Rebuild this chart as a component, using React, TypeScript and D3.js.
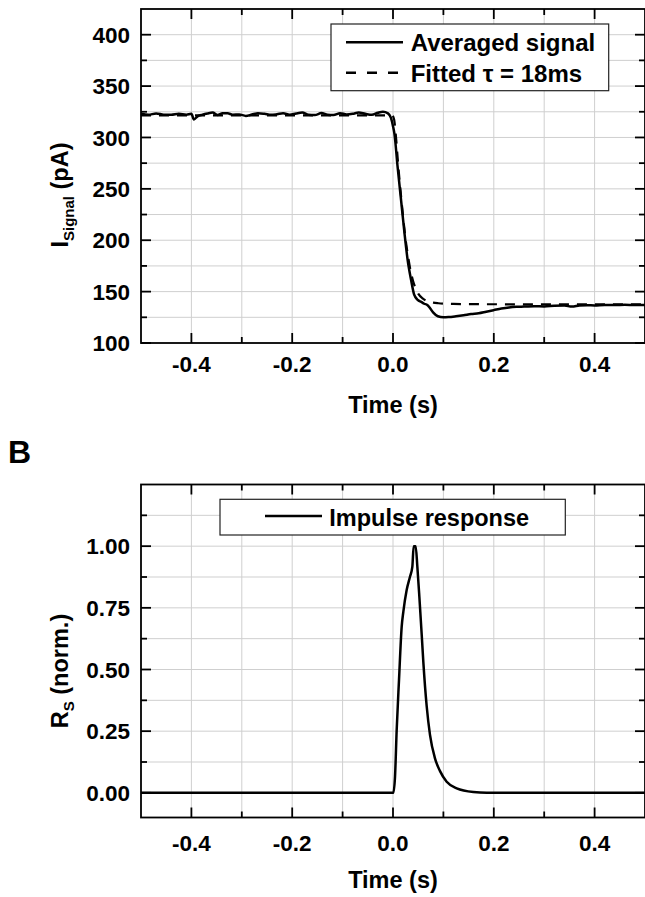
import React from "react";
import * as d3 from "d3";

// ---------- data ----------
const signalT = [-0.5, -0.485, -0.47, -0.455, -0.44, -0.425, -0.41, -0.4, -0.395, -0.388, -0.378, -0.368, -0.358, -0.348, -0.338, -0.328, -0.318, -0.305, -0.292, -0.28, -0.268, -0.255, -0.242, -0.23, -0.218, -0.205, -0.192, -0.18, -0.168, -0.155, -0.142, -0.13, -0.118, -0.105, -0.092, -0.08, -0.068, -0.055, -0.042, -0.03, -0.02, -0.01, -0.004, 0.0, 0.003, 0.009, 0.016, 0.023, 0.029, 0.036, 0.042, 0.049, 0.056, 0.062, 0.068, 0.074, 0.08, 0.089, 0.1, 0.11, 0.125, 0.14, 0.155, 0.17, 0.185, 0.2, 0.215, 0.23, 0.245, 0.26, 0.28, 0.3, 0.32, 0.34, 0.355, 0.37, 0.385, 0.4, 0.42, 0.44, 0.46, 0.48, 0.5];
const signalV = [323.0, 322.0, 323.4, 322.2, 322.0, 323.0, 322.2, 323.0, 317.5, 320.5, 322.2, 323.4, 324.2, 321.8, 323.6, 323.5, 322.2, 322.4, 321.0, 322.3, 323.6, 323.0, 322.0, 322.6, 323.5, 322.1, 323.4, 324.2, 322.2, 321.8, 323.7, 322.2, 321.8, 323.6, 322.4, 323.0, 324.3, 323.0, 322.0, 324.0, 325.0, 323.5, 319.0, 311.0, 303.0, 272.0, 239.0, 206.0, 181.0, 161.0, 147.0, 142.0, 140.0, 138.2, 137.0, 133.5, 129.5, 126.0, 125.0, 125.2, 126.0, 127.0, 128.2, 129.0, 130.5, 132.0, 133.5, 134.6, 135.2, 135.4, 135.8, 135.6, 136.2, 136.4, 135.4, 136.5, 136.8, 136.6, 137.0, 136.9, 137.1, 137.0, 137.0];

const fitT = [-0.5, -0.002, 0.002, 0.006, 0.01, 0.015, 0.02, 0.025, 0.03, 0.035, 0.04, 0.045, 0.05, 0.06, 0.07, 0.08, 0.09, 0.1, 0.12, 0.15, 0.2, 0.3, 0.4, 0.5];
const fitV = [321.5, 321.5, 318, 300, 275, 248, 223, 201, 184, 170, 160, 153, 148, 143, 140.5, 139.3, 138.7, 138.3, 138, 137.8, 137.7, 137.6, 137.5, 137.5];

const impulseT = [-0.5, 0.0007, 0.004, 0.0073, 0.0119, 0.0172, 0.0205, 0.0271, 0.0337, 0.0384, 0.041, 0.045, 0.0483, 0.0523, 0.057, 0.0602, 0.0669, 0.0734, 0.0833, 0.0933, 0.1065, 0.1264, 0.1594, 0.186, 0.5];
const impulseV = [0, 0, 0.065, 0.255, 0.457, 0.673, 0.734, 0.822, 0.876, 0.917, 1.0, 1.0, 0.917, 0.795, 0.64, 0.53, 0.35, 0.235, 0.14, 0.088, 0.045, 0.018, 0.003, 0, 0];

const xMajorTicks = [-0.4, -0.2, 0.0, 0.2, 0.4];
const xMinorTicks = [-0.3, -0.1, 0.1, 0.3];
const xTickLabels = ["-0.4", "-0.2", "0.0", "0.2", "0.4"];

const topYMajor = [100, 150, 200, 250, 300, 350, 400];
const topYMinor = [125, 175, 225, 275, 325, 375];
const topYLabels = ["100", "150", "200", "250", "300", "350", "400"];

const botYMajor = [0, 0.25, 0.5, 0.75, 1.0];
const botYMinor = [0.125, 0.375, 0.625, 0.875, 1.125];
const botYLabels = ["0.00", "0.25", "0.50", "0.75", "1.00"];

const legendTop = ["Averaged signal", "Fitted \u03c4 = 18ms"];
const legendBottom = ["Impulse response"];

// ---------- layout ----------
const W = 645;
const H = 897;
const FONT = "'Liberation Sans', Arial, Helvetica, sans-serif";
const X0 = 141;
const X1 = 645;

const x = d3.scaleLinear().domain([-0.5, 0.5]).range([X0, X1]);
const yTop = d3.scaleLinear().domain([100, 425]).range([343, 9]);
const yBot = d3.scaleLinear().domain([-0.1, 1.25]).range([817.5, 484.5]);

type Scale = d3.ScaleLinear<number, number>;

function Grid({ y, yGrid }: { y: Scale; yGrid: number[] }) {
  const [yb, yt] = y.range();
  const xGrid = [...xMajorTicks, ...xMinorTicks];
  const grid = "#cfcfcf";
  return (
    <g>
      {xGrid.map((v, i) => (
        <line key={"gx" + i} x1={x(v)} x2={x(v)} y1={yt} y2={yb} stroke={grid} strokeWidth={1} />
      ))}
      {yGrid.map((v, i) => (
        <line key={"gy" + i} x1={X0} x2={X1} y1={y(v)} y2={y(v)} stroke={grid} strokeWidth={1} />
      ))}
    </g>
  );
}

function Axes({ y, yMajor, yMinor, yLabels, xLabelBaseline, titleBaseline }: {
  y: Scale; yMajor: number[]; yMinor: number[]; yLabels: string[];
  xLabelBaseline: number; titleBaseline: number;
}) {
  const [yb, yt] = y.range();
  const maj = 10;
  const min = 6;
  const sw = 1.8;
  return (
    <g>
      <rect x={X0} y={yt} width={X1 - X0} height={yb - yt} fill="none" stroke="#000" strokeWidth={sw} />
      {xMajorTicks.map((v, i) => (
        <g key={"xm" + i}>
          <line x1={x(v)} x2={x(v)} y1={yb} y2={yb - maj} stroke="#000" strokeWidth={sw} />
          <line x1={x(v)} x2={x(v)} y1={yt} y2={yt + maj} stroke="#000" strokeWidth={sw} />
        </g>
      ))}
      {xMinorTicks.map((v, i) => (
        <g key={"xn" + i}>
          <line x1={x(v)} x2={x(v)} y1={yb} y2={yb - min} stroke="#000" strokeWidth={sw} />
          <line x1={x(v)} x2={x(v)} y1={yt} y2={yt + min} stroke="#000" strokeWidth={sw} />
        </g>
      ))}
      {yMajor.map((v, i) => (
        <g key={"ym" + i}>
          <line x1={X0} x2={X0 + maj} y1={y(v)} y2={y(v)} stroke="#000" strokeWidth={sw} />
          <line x1={X1} x2={X1 - maj} y1={y(v)} y2={y(v)} stroke="#000" strokeWidth={sw} />
        </g>
      ))}
      {yMinor.map((v, i) => (
        <g key={"yn" + i}>
          <line x1={X0} x2={X0 + min} y1={y(v)} y2={y(v)} stroke="#000" strokeWidth={sw} />
          <line x1={X1} x2={X1 - min} y1={y(v)} y2={y(v)} stroke="#000" strokeWidth={sw} />
        </g>
      ))}
      {yMajor.map((v, i) => (
        <text key={"yl" + i} x={130} y={y(v)} dy="0.36em" textAnchor="end" fontFamily={FONT}
          fontWeight="bold" fontSize={22.5} fill="#000">{yLabels[i]}</text>
      ))}
      {xMajorTicks.map((v, i) => (
        <text key={"xl" + i} x={x(v)} y={xLabelBaseline} textAnchor="middle" fontFamily={FONT}
          fontWeight="bold" fontSize={22.5} fill="#000">{xTickLabels[i]}</text>
      ))}
      <text x={x(0)} y={titleBaseline} textAnchor="middle" fontFamily={FONT} fontWeight="bold"
        fontSize={23.5} fill="#000">Time (s)</text>
    </g>
  );
}

export default function App() {
  const lineTop = d3.line<number>().x((d, i) => x(signalT[i])).y((d) => yTop(d)).curve(d3.curveMonotoneX);
  const lineFit = d3.line<number>().x((d, i) => x(fitT[i])).y((d) => yTop(d)).curve(d3.curveMonotoneX);
  const lineImp = d3.line<number>().x((d, i) => x(impulseT[i])).y((d) => yBot(d)).curve(d3.curveMonotoneX);

  const topGrid = [125, 150, 175, 200, 225, 250, 275, 300, 325, 350, 375, 400];
  const botGrid = [0.125, 0.25, 0.375, 0.5, 0.625, 0.75, 0.875, 1.0, 1.125];

  return (
    <svg width={W} height={H} viewBox={`0 0 ${W} ${H}`}
      style={{ position: "absolute", left: 0, top: 0, display: "block", background: "#fff" }}>
      <rect x={0} y={0} width={W} height={H} fill="#fff" />

      {/* ---- Panel A ---- */}
      <Grid y={yTop} yGrid={topGrid} />
      <path d={lineFit(fitV) || ""} fill="none" stroke="#000" strokeWidth={2.2} strokeDasharray="10,8" />
      <path d={lineTop(signalV) || ""} fill="none" stroke="#000" strokeWidth={2.5} strokeLinejoin="round" />
      <Axes y={yTop} yMajor={topYMajor} yMinor={topYMinor} yLabels={topYLabels}
        xLabelBaseline={372} titleBaseline={413} />
      <text transform="translate(68,195) rotate(-90)" textAnchor="middle" fontFamily={FONT}
        fontWeight="bold" fontSize={23.5} fill="#000">
        <tspan>I</tspan>
        <tspan fontSize={15} dy={6}>Signal</tspan>
        <tspan dy={-6}> (pA)</tspan>
      </text>

      {/* legend A */}
      <rect x={331} y={24} width={277.7} height={66.7} fill="#fff" stroke="#222" strokeWidth={1.2} />
      <line x1={346} x2={403} y1={42.3} y2={42.3} stroke="#000" strokeWidth={2.4} />
      <line x1={346} x2={403} y1={72.7} y2={72.7} stroke="#000" strokeWidth={2.4} strokeDasharray="10,11" />
      <text x={410.7} y={50.7} fontFamily={FONT} fontWeight="bold" fontSize={24} fill="#000">{legendTop[0]}</text>
      <text x={410.7} y={81.7} fontFamily={FONT} fontWeight="bold" fontSize={24} fill="#000">{legendTop[1]}</text>

      {/* ---- Panel B ---- */}
      <text x={8} y={463} fontFamily={FONT} fontWeight="bold" fontSize={32} fill="#000">B</text>
      <Grid y={yBot} yGrid={botGrid} />
      <path d={lineImp(impulseV) || ""} fill="none" stroke="#000" strokeWidth={2.5} strokeLinejoin="round" />
      <Axes y={yBot} yMajor={botYMajor} yMinor={botYMinor} yLabels={botYLabels}
        xLabelBaseline={850.5} titleBaseline={888} />
      <text transform="translate(68,671) rotate(-90)" textAnchor="middle" fontFamily={FONT}
        fontWeight="bold" fontSize={23.5} fill="#000">
        <tspan>R</tspan>
        <tspan fontSize={15} dy={6}>S</tspan>
        <tspan dy={-6}> (norm.)</tspan>
      </text>

      {/* legend B */}
      <rect x={220} y={499.3} width={345.3} height={35.7} fill="#fff" stroke="#222" strokeWidth={1.2} />
      <line x1={265} x2={322} y1={516} y2={516} stroke="#000" strokeWidth={2.4} />
      <text x={329.3} y={525.7} fontFamily={FONT} fontWeight="bold" fontSize={23.5} fill="#000">{legendBottom[0]}</text>
    </svg>
  );
}
